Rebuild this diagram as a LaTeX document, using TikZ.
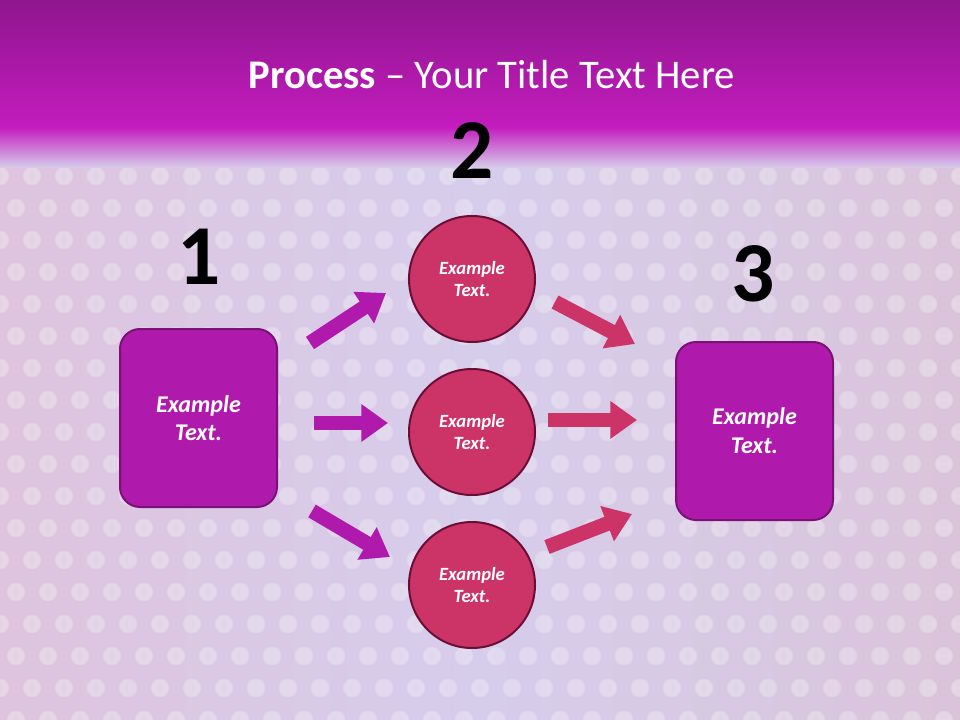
\documentclass[tikz,border=0pt]{standalone}
\usepackage{fontspec}
\setmainfont{Carlito}
\usetikzlibrary{arrows.meta}
\definecolor{barTop}{HTML}{8E168E}
\definecolor{barMid}{HTML}{C41CBE}
\definecolor{bgLeft}{HTML}{DEC4DE}
\definecolor{bgMid}{HTML}{D6CDEB}
\definecolor{bgRight}{HTML}{DAC4DA}
\definecolor{boxFill}{HTML}{B01AAC}
\definecolor{boxEdge}{HTML}{7A1276}
\definecolor{discFill}{HTML}{CC3366}
\definecolor{discEdge}{HTML}{6A0E35}
\tikzset{
  stepbox/.style={draw=boxEdge,line width=1.5pt,fill=boxFill,rounded corners=15pt,
    minimum width=117.75pt,minimum height=133.5pt,text=white,align=center,
    font=\fontsize{18}{21.5}\selectfont\bfseries\itshape},
  stepdisc/.style={circle,draw=discEdge,line width=1.5pt,fill=discFill,minimum size=94.5pt,
    inner sep=0pt,text=white,align=center,font=\fontsize{14}{17}\selectfont\bfseries\itshape},
  stepnum/.style={font=\fontsize{64}{64}\selectfont\bfseries,inner sep=0pt},
  fatarrow/.style={line width=11pt,-{Triangle[length=20pt,width=27pt]}},
}
\begin{document}
\begin{tikzpicture}[x=0.75pt,y=-0.75pt]
  \useasboundingbox (0,0) rectangle (960,720);
  % background
  \shade[left color=bgLeft,right color=bgRight,middle color=bgMid] (0,0) rectangle (960,720);
  \foreach \row in {0,...,17}
    \foreach \col in {0,...,30}
      \fill[white,opacity=0.28] ({\col*32+mod(\row,2)*16},{176+\row*32}) circle[radius=6.75pt];
  \shade[top color=barMid,bottom color=bgMid] (0,127) rectangle (960,168);
  \shade[top color=barTop,bottom color=barMid] (0,0) rectangle (960,128);
  \node[text=white,font=\fontsize{30.5}{36}\selectfont] (title) at (492,75)
    {\textbf{Process} – Your Title Text Here};

  % steps
  \node[stepbox] (box1) at (198.5,418) {Example\\Text.};
  \node[stepbox] (box3) at (754.5,431) {Example\\Text.};
  \node[stepdisc] (disc2a) at (472,279) {Example\\Text.};
  \node[stepdisc] (disc2b) at (472,432) {Example\\Text.};
  \node[stepdisc] (disc2c) at (472,585) {Example\\Text.};
  \node[stepnum] (num1) at (199,257) {1};
  \node[stepnum] (num2) at (472,151) {2};
  \node[stepnum] (num3) at (753,274) {3};

  % arrows
  \coordinate (a1s) at (310,343); \coordinate (a1e) at (386,293);
  \coordinate (a2s) at (314,423); \coordinate (a2e) at (388,423);
  \coordinate (a3s) at (312,511); \coordinate (a3e) at (390,557);
  \coordinate (a4s) at (555,302); \coordinate (a4e) at (635,344);
  \coordinate (a5s) at (548,420); \coordinate (a5e) at (637,420);
  \coordinate (a6s) at (547,547); \coordinate (a6e) at (632,514);
  \draw[fatarrow,boxFill] (a1s) -- (a1e);
  \draw[fatarrow,boxFill] (a2s) -- (a2e);
  \draw[fatarrow,boxFill] (a3s) -- (a3e);
  \draw[fatarrow,discFill] (a4s) -- (a4e);
  \draw[fatarrow,discFill] (a5s) -- (a5e);
  \draw[fatarrow,discFill] (a6s) -- (a6e);
\end{tikzpicture}
\end{document}
